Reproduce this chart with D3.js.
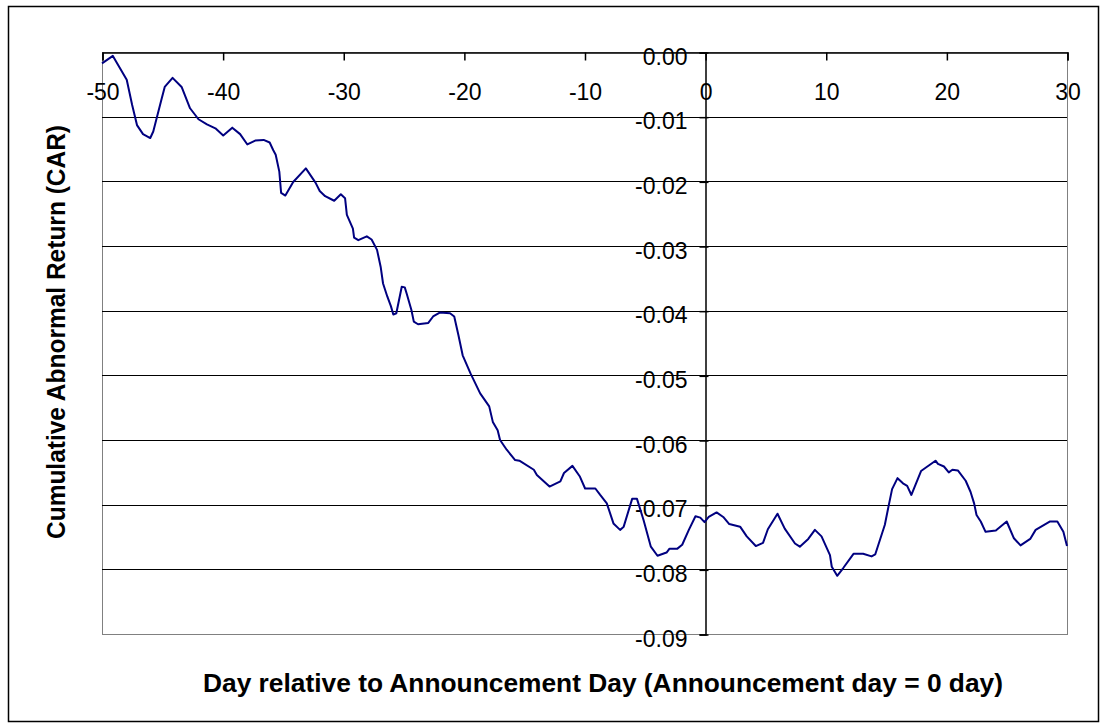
<!DOCTYPE html>
<html>
<head>
<meta charset="utf-8">
<script src="https://cdn.jsdelivr.net/npm/d3@7"></script>
<style>
  html, body { margin: 0; padding: 0; background: #fff; }
  svg { display: block; font-family: "Liberation Sans", Arial, sans-serif; }
</style>
</head>
<body>
<svg id="chart" width="1105" height="728"></svg>
<script>
// ---- data ----
const days = [
  -50.0, -49.1, -47.95, -47.5, -47.1, -46.6, -46.0, -45.75, -45.05, -44.8,
  -44.15, -43.4, -42.7, -42.0, -41.3, -40.6, -39.95, -39.2, -38.55, -37.95,
  -37.3, -36.6, -36.1, -35.8, -35.6, -35.3, -35.15, -34.8, -34.15, -33.1,
  -32.3, -31.95, -31.5, -30.75, -30.2, -29.85, -29.7, -29.2, -29.1, -28.75,
  -28.05, -27.65, -27.2, -26.9, -26.7, -26.35, -26.05, -25.85, -25.6, -25.15,
  -24.9, -24.75, -24.35, -24.15, -23.8, -22.95, -22.55, -22.0, -21.15, -20.8,
  -20.45, -20.1, -19.45, -18.65, -17.9, -17.6, -17.2, -17.0, -16.45, -15.75,
  -15.4, -14.2, -13.95, -12.9, -12.0, -11.7, -11.0, -10.4, -9.95, -9.1,
  -8.7, -8.15, -7.6, -7.05, -6.75, -6.05, -5.65, -5.1, -4.5, -3.95,
  -3.2, -2.95, -2.3, -1.9, -1.35, -0.8, -0.4, -0.05, 0.3, 0.95,
  1.5, 2.0, 2.9, 3.45, 4.2, 4.8, 5.2, 6.0, 6.6, 7.45,
  7.85, 8.55, 9.1, 9.65, 10.35, 10.5, 10.95, 11.45, 12.3, 13.1,
  13.8, 14.1, 14.9, 15.2, 15.5, 15.95, 16.4, 16.75, 17.1, 17.9,
  19.1, 19.3, 19.8, 20.2, 20.5, 20.95, 21.6, 22.0, 22.3, 22.5,
  22.85, 23.25, 24.1, 25.0, 25.6, 26.15, 26.95, 27.4, 28.6, 29.2,
  29.7, 30.0
];
const car = [
  -0.00175, -0.0006, -0.0043, -0.0082, -0.0113, -0.0127, -0.0133, -0.0123, -0.0072, -0.0054,
  -0.0040, -0.0054, -0.0087, -0.0104, -0.0112, -0.0118, -0.0129, -0.0117, -0.0127, -0.0143,
  -0.0137, -0.0136, -0.0140, -0.0152, -0.0159, -0.0185, -0.0218, -0.0222, -0.0201, -0.0180,
  -0.0202, -0.0215, -0.0223, -0.0230, -0.0220, -0.0226, -0.0252, -0.0273, -0.0287, -0.0291,
  -0.0285, -0.0290, -0.0306, -0.0332, -0.0358, -0.0378, -0.0393, -0.0406, -0.0404, -0.0363,
  -0.0364, -0.0373, -0.0399, -0.0417, -0.0421, -0.0419, -0.0409, -0.0403, -0.0404, -0.0409,
  -0.0438, -0.0469, -0.0497, -0.0528, -0.0548, -0.0572, -0.0585, -0.0600, -0.0615, -0.0631,
  -0.0632, -0.0646, -0.0654, -0.0672, -0.0664, -0.0651, -0.0640, -0.0656, -0.0675, -0.0675,
  -0.0685, -0.0698, -0.0729, -0.0739, -0.0734, -0.0691, -0.0691, -0.0724, -0.0765, -0.0779,
  -0.0774, -0.0768, -0.0768, -0.0762, -0.0739, -0.0718, -0.0720, -0.0727, -0.0719, -0.0712,
  -0.0719, -0.0730, -0.0734, -0.0749, -0.0764, -0.0759, -0.0738, -0.0714, -0.0737, -0.0760,
  -0.0765, -0.0753, -0.0739, -0.0749, -0.0778, -0.0796, -0.0810, -0.0798, -0.0776, -0.0776,
  -0.0780, -0.0777, -0.0731, -0.0703, -0.0676, -0.0659, -0.0667, -0.0671, -0.0685, -0.0648,
  -0.0632, -0.0637, -0.0641, -0.0650, -0.0646, -0.0647, -0.0663, -0.0680, -0.0698, -0.0716,
  -0.0726, -0.0742, -0.0740, -0.0726, -0.0752, -0.0763, -0.0753, -0.0739, -0.0726, -0.0726,
  -0.0742, -0.0764
];
const xTicks = [-50, -40, -30, -20, -10, 0, 10, 20, 30];
const yTicks = [0, -0.01, -0.02, -0.03, -0.04, -0.05, -0.06, -0.07, -0.08, -0.09];
const xTitle = "Day relative to Announcement Day (Announcement day = 0 day)";
const yTitle = "Cumulative Abnormal Return (CAR)";

// ---- layout ----
const svg = d3.select("#chart");
const plot = { left: 102, right: 1067, top: 52, bottom: 634 };

const x = d3.scaleLinear().domain([-50, 30]).range([plot.left, plot.right]);
const y = d3.scaleLinear().domain([0, -0.09]).range([plot.top, plot.bottom]);

// outer border
svg.append("rect")
  .attr("x", 8.5).attr("y", 6.5)
  .attr("width", 1090).attr("height", 715)
  .attr("fill", "none").attr("stroke", "#000").attr("stroke-width", 1.5);

// plot area border (gray)
svg.append("rect")
  .attr("x", plot.left + 0.5).attr("y", plot.top + 0.5)
  .attr("width", plot.right - plot.left).attr("height", plot.bottom - plot.top)
  .attr("fill", "none").attr("stroke", "#808080").attr("stroke-width", 1);

// horizontal gridlines
svg.append("g").selectAll("line")
  .data(yTicks.filter(v => v < 0 && v > -0.09))
  .join("line")
  .attr("x1", plot.left).attr("x2", plot.right)
  .attr("y1", d => Math.round(y(d)) + 0.5).attr("y2", d => Math.round(y(d)) + 0.5)
  .attr("stroke", "#000").attr("stroke-width", 1);

// x axis along y = 0 (top), ticks pointing down, labels below
const xAxis = d3.axisBottom(x).tickValues(xTicks).tickSize(8).tickPadding(23)
  .tickFormat(d3.format("d"));
const gx = svg.append("g")
  .attr("transform", `translate(0.5,${Math.round(y(0)) + 0.5})`)
  .call(xAxis);
gx.select(".domain").attr("stroke", "#000").attr("stroke-width", 1.5);
gx.selectAll(".tick line").attr("stroke", "#000").attr("stroke-width", 1.5);
gx.selectAll(".tick text")
  .attr("font-family", "Liberation Sans, Arial, sans-serif")
  .attr("font-size", 23).attr("fill", "#000")
  .text(d => d < 0 ? "-" + Math.abs(d) : String(d));

// y axis along x = 0
const yAxis = d3.axisLeft(y).tickValues(yTicks).tickSize(6).tickPadding(12)
  .tickFormat(d => d === 0 ? "0.00" : "-" + d3.format(".2f")(Math.abs(d)));
const gy = svg.append("g")
  .attr("transform", `translate(${Math.round(x(0)) + 0.5},0.5)`)
  .call(yAxis);
gy.select(".domain").attr("stroke", "#000").attr("stroke-width", 1.5);
gy.selectAll(".tick line").attr("stroke", "#000").attr("stroke-width", 1.5).attr("x2", 3).attr("x1", -6);
gy.selectAll(".tick text")
  .attr("font-family", "Liberation Sans, Arial, sans-serif")
  .attr("font-size", 23).attr("fill", "#000").attr("dy", "0.5em");

// data line
const line = d3.line()
  .x((d, i) => x(days[i]))
  .y((d, i) => y(car[i]))
  .curve(d3.curveLinear);
svg.append("path")
  .datum(car)
  .attr("d", line)
  .attr("fill", "none")
  .attr("stroke", "#000080")
  .attr("stroke-width", 2)
  .attr("stroke-linejoin", "round");

// axis titles
svg.append("text")
  .attr("x", 603).attr("y", 692)
  .attr("text-anchor", "middle")
  .attr("font-size", 26).attr("font-weight", "bold")
  .attr("textLength", 800).attr("lengthAdjust", "spacingAndGlyphs")
  .text(xTitle);

svg.append("text")
  .attr("transform", "translate(65,332) rotate(-90)")
  .attr("text-anchor", "middle")
  .attr("font-size", 25).attr("font-weight", "bold")
  .attr("textLength", 414).attr("lengthAdjust", "spacingAndGlyphs")
  .text(yTitle);
</script>
</body>
</html>
